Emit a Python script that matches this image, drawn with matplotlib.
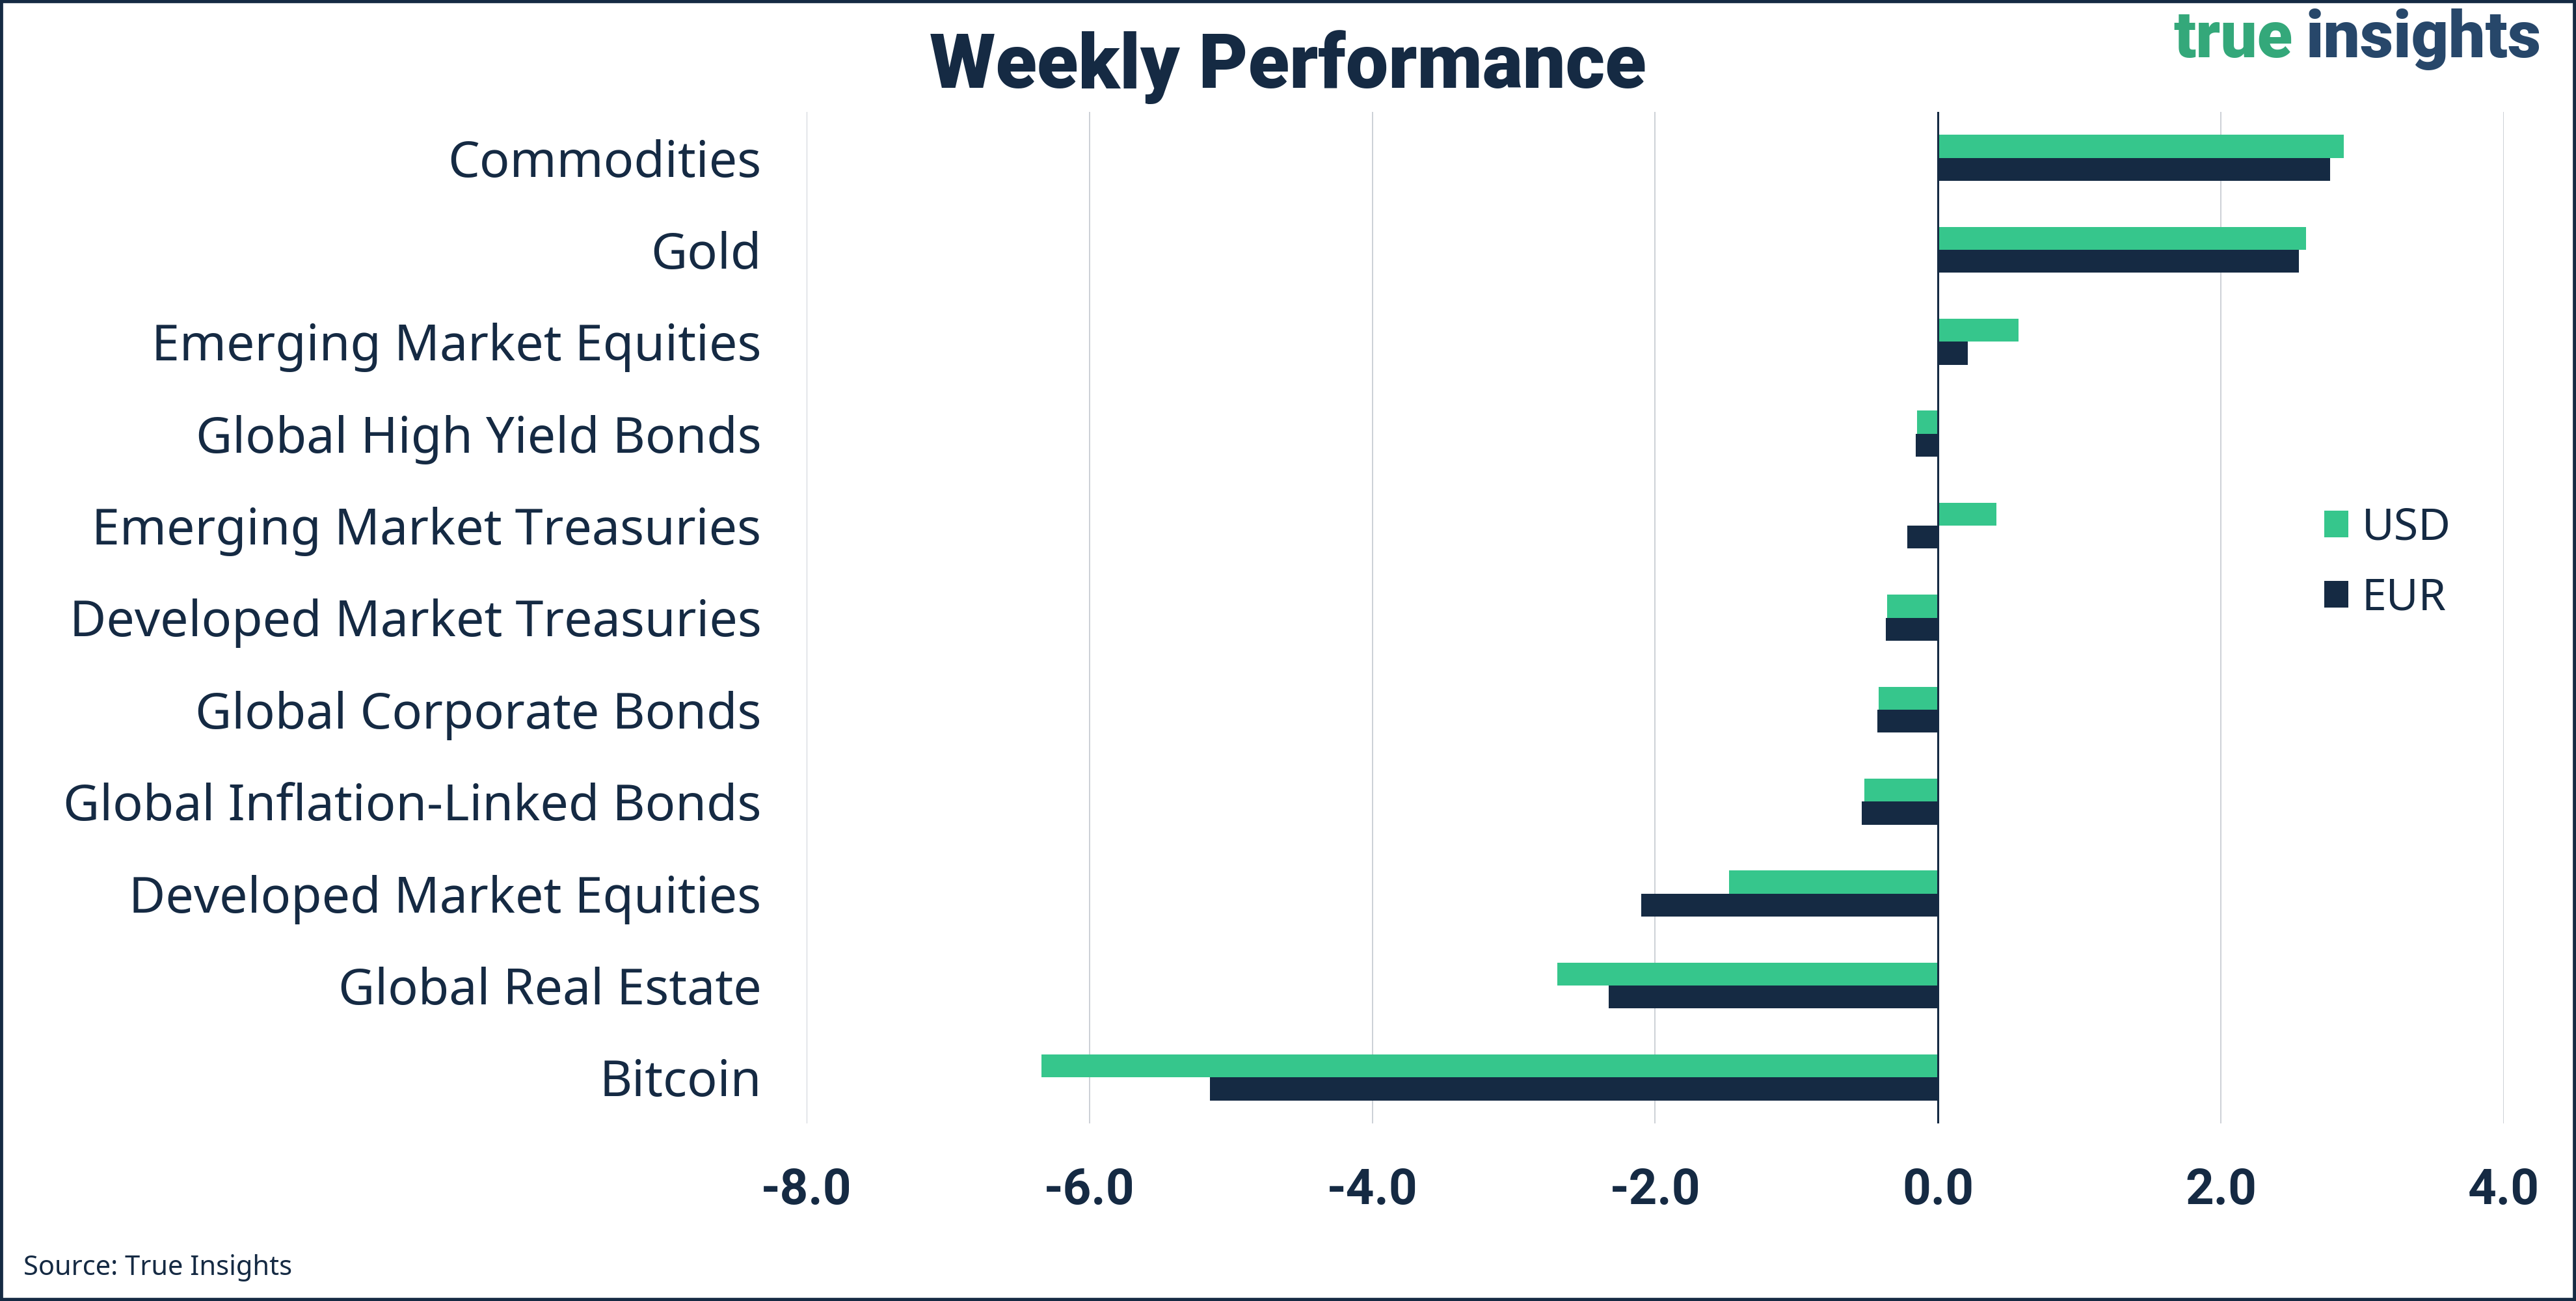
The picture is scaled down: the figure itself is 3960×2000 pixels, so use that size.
import matplotlib
matplotlib.use('Agg')
import matplotlib.pyplot as plt
import numpy as np
from matplotlib.patches import Rectangle

plt.rcParams['font.family'] = ['Noto Sans', 'DejaVu Sans']

navy = '#152a43'
green = '#36c68c'
heavy = ['Roboto', 'Lato', 'DejaVu Sans']

categories = ['Commodities', 'Gold', 'Emerging Market Equities', 'Global High Yield Bonds',
              'Emerging Market Treasuries', 'Developed Market Treasuries', 'Global Corporate Bonds',
              'Global Inflation-Linked Bonds', 'Developed Market Equities', 'Global Real Estate',
              'Bitcoin']
usd = [2.87, 2.60, 0.57, -0.15, 0.41, -0.36, -0.42, -0.52, -1.48, -2.69, -6.34]
eur = [2.77, 2.55, 0.21, -0.16, -0.22, -0.37, -0.43, -0.54, -2.10, -2.33, -5.15]
xticks = [-8, -6, -4, -2, 0, 2, 4]

fig = plt.figure(figsize=(19.8, 10), dpi=200)
ax = fig.add_axes([0.3131, 0.1365, 0.6589, 0.7775])

y = np.arange(len(categories))
h = 0.25
ax.barh(y - h / 2, usd, height=h, color=green, label='USD', zorder=2)
ax.barh(y + h / 2, eur, height=h, color=navy, label='EUR', zorder=2)
ax.axvline(0, color=navy, lw=1.1, zorder=3)

ax.set_xlim(-8, 4)
ax.set_ylim(len(categories) - 0.5, -0.5)
ax.set_xticks(xticks)
ax.set_xticklabels([f'{v:.1f}' for v in xticks], fontsize=27.5, fontweight='bold',
                   color=navy, family=heavy)
ax.set_yticks(y)
ax.set_yticklabels(categories, fontsize=27.8, color=navy)
ax.tick_params(axis='both', length=0)
ax.tick_params(axis='x', pad=24)
ax.tick_params(axis='y', pad=25)
ax.grid(axis='x', color='#c3c8cf', lw=0.6, zorder=0)
for s in ax.spines.values():
    s.set_visible(False)

leg = ax.legend(loc='center left', bbox_to_anchor=(0.894, 0.554), frameon=False,
                fontsize=24.5, handlelength=0.55, handleheight=0.55, handletextpad=0.3,
                labelspacing=0.6, borderpad=0, borderaxespad=0)
for t in leg.get_texts():
    t.set_color(navy)

fig.text(0.5, 1 - 135 / 2000, 'Weekly Performance', ha='center', va='baseline',
         fontsize=42, fontweight=900, color=navy, family=heavy)

# logo: "insights" right-aligned, "true" placed just left of it
ins = fig.text(3907 / 3960, 1 - 88 / 2000, 'insights', ha='right', va='baseline',
               fontsize=36, fontweight=900, color='#27476a', family=heavy)
fig.canvas.draw()
bb = ins.get_window_extent().transformed(fig.transFigure.inverted())
fig.text(bb.x0 - 20 / 3960, 1 - 88 / 2000, 'true', ha='right', va='baseline',
         fontsize=36, fontweight=900, color='#34a87a', family=heavy)

fig.text(36 / 3960, 1 - 1960 / 2000, 'Source: True Insights', ha='left', va='baseline',
         fontsize=15, color=navy)

fig.patches.append(Rectangle((0, 0), 1, 1, transform=fig.transFigure, fill=False,
                             edgecolor=navy, lw=3.5, zorder=10))

fig.savefig('out.png', dpi=200, facecolor='white')
